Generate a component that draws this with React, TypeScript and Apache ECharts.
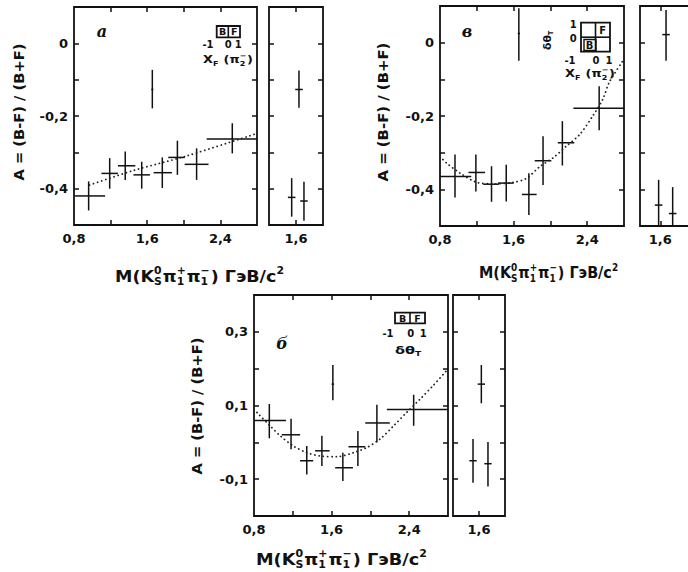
import React, { useEffect, useRef } from "react";
import * as echarts from "echarts";

// ---------- DATA ----------
// Panel а (X_F): main plot
const aX = [0.96, 1.19, 1.36, 1.54, 1.765, 1.93, 2.14, 2.53, 1.656];
const aXlo = [0.81, 1.1, 1.28, 1.45, 1.67, 1.83, 2.01, 2.25, 1.645];
const aXhi = [1.14, 1.28, 1.47, 1.63, 1.87, 2.01, 2.27, 2.8, 1.667];
const aY = [-0.42, -0.358, -0.337, -0.362, -0.356, -0.314, -0.333, -0.263, -0.127];
const aYlo = [-0.46, -0.4, -0.376, -0.4, -0.398, -0.362, -0.376, -0.303, -0.179];
const aYhi = [-0.38, -0.316, -0.298, -0.326, -0.314, -0.268, -0.289, -0.22, -0.073];
const aFitX = [0.97, 1.45, 2.03, 2.8];
const aFitY = [-0.39, -0.35, -0.31, -0.248];
// Panel а: side plot
const aSX = [1.568, 1.622, 1.659];
const aSY = [-0.424, -0.127, -0.434];
const aSYlo = [-0.477, -0.177, -0.488];
const aSYhi = [-0.371, -0.075, -0.381];

// Panel в (X_F, δθ_T): main plot
const bX = [0.963, 1.19, 1.36, 1.52, 1.766, 1.92, 2.13, 2.53, 1.657];
const bXlo = [0.8, 1.11, 1.27, 1.43, 1.69, 1.83, 2.08, 2.25, 1.645];
const bXhi = [1.14, 1.29, 1.44, 1.6, 1.85, 2.01, 2.26, 2.8, 1.67];
const bY = [-0.365, -0.354, -0.386, -0.383, -0.414, -0.322, -0.273, -0.179, 0.025];
const bYlo = [-0.422, -0.406, -0.434, -0.433, -0.47, -0.388, -0.335, -0.239, -0.049];
const bYhi = [-0.305, -0.305, -0.337, -0.333, -0.356, -0.255, -0.214, -0.119, 0.094];
const bFitX = [0.8, 0.87, 1.02, 1.2, 1.38, 1.6, 1.74, 1.885, 2.03, 2.17, 2.32, 2.46, 2.57, 2.64, 2.79];
const bFitY = [-0.31, -0.328, -0.356, -0.381, -0.385, -0.381, -0.37, -0.338, -0.314, -0.283, -0.25, -0.2, -0.154, -0.108, -0.049];
// Panel в: side plot
const bSX = [1.588, 1.643, 1.692];
const bSY = [-0.443, 0.022, -0.466];
const bSYlo = [-0.5, -0.049, -0.5];
const bSYhi = [-0.374, 0.089, -0.394];

// Panel б (δθ_T): main plot
const cX = [0.958, 1.182, 1.344, 1.5, 1.716, 1.871, 2.067, 2.446, 1.613];
const cXlo = [0.8, 1.086, 1.275, 1.43, 1.637, 1.774, 1.947, 2.17, 1.6];
const cXhi = [1.13, 1.275, 1.41, 1.58, 1.82, 1.947, 2.2, 2.8, 1.626];
const cY = [0.059, 0.0205, -0.05, -0.023, -0.069, -0.012, 0.0526, 0.089, 0.158];
const cYlo = [0.011, -0.019, -0.087, -0.064, -0.105, -0.064, 0.0, 0.045, 0.114];
const cYhi = [0.104, 0.064, -0.01, 0.018, -0.028, 0.031, 0.102, 0.129, 0.21];
const cFitX = [0.8, 0.845, 0.965, 1.069, 1.206, 1.344, 1.482, 1.654, 1.826, 1.964, 2.1, 2.24, 2.377, 2.515, 2.65, 2.79];
const cFitY = [0.09, 0.077, 0.045, 0.018, -0.01, -0.028, -0.037, -0.039, -0.028, -0.014, 0.009, 0.045, 0.082, 0.118, 0.155, 0.196];
// Panel б: side plot
const cSX = [1.554, 1.618, 1.669];
const cSY = [-0.05, 0.158, -0.058];
const cSYlo = [-0.11, 0.106, -0.12];
const cSYhi = [0.009, 0.21, 0.001];

// Ticks / labels
const mainXTicks = [1.2, 1.6, 2.0, 2.4];
const mainXLabels = [0.8, 1.6, 2.4];
const sideXTicks = [1.6];
const sideXLabels = [1.6];
const abYTicks = [-0.4, -0.3, -0.2, -0.1, 0];
const abYLabels = [-0.4, -0.2, 0];
const cYTicks = [-0.1, 0, 0.1, 0.2, 0.3];
const cYLabels = [-0.1, 0.1, 0.3];

// ---------- HELPERS ----------
const FONT = "DejaVu Sans";
const INK = "#111";
const fmt = (v: number) => (Math.abs(v) < 1e-9 ? "0" : v.toFixed(1).replace(".", ","));

let ctx: CanvasRenderingContext2D | null = null;
function tw(t: string, size: number) {
  if (!ctx) ctx = document.createElement("canvas").getContext("2d");
  if (!ctx) return t.length * size * 0.6;
  ctx.font = `bold ${size}px "${FONT}"`;
  return ctx.measureText(t).width;
}

type Piece = { n?: string; sup?: string; sub?: string };
function compose(
  pieces: Piece[],
  size: number,
  o: { x: number; y: number; width?: number; rotation?: number; align?: "left" | "center" }
) {
  const small = size * 0.62;
  const items: { x: number; y: number; t: string; s: number }[] = [];
  let cx = 0;
  for (const p of pieces) {
    if (p.n !== undefined) {
      items.push({ x: cx, y: 0, t: p.n, s: size });
      cx += tw(p.n, size);
    } else {
      let w = 0;
      if (p.sup) {
        items.push({ x: cx, y: -size * 0.36, t: p.sup, s: small });
        w = Math.max(w, tw(p.sup, small));
      }
      if (p.sub) {
        items.push({ x: cx, y: size * 0.34, t: p.sub, s: small });
        w = Math.max(w, tw(p.sub, small));
      }
      cx += w + size * 0.06;
    }
  }
  const W = cx;
  const sx = o.width ? o.width / W : 1;
  const off = o.align === "left" ? 0 : -W / 2;
  return {
    type: "group",
    x: o.x,
    y: o.y,
    rotation: o.rotation || 0,
    scaleX: sx,
    silent: true,
    children: items.map((it) => ({
      type: "text",
      x: it.x + off,
      y: it.y,
      style: {
        text: it.t,
        fontSize: it.s,
        fontWeight: "bold",
        fontFamily: FONT,
        fill: INK,
        align: "left",
        verticalAlign: "middle",
      },
    })),
  };
}

function txt(t: string, x: number, y: number, size = 10, extra: any = {}) {
  return {
    type: "text",
    x,
    y,
    silent: true,
    style: {
      text: t,
      fontSize: size,
      fontWeight: "bold",
      fontFamily: FONT,
      fill: INK,
      align: "center",
      verticalAlign: "middle",
      ...extra,
    },
  };
}
function ln(x1: number, y1: number, x2: number, y2: number, w = 1.6) {
  return { type: "line", silent: true, shape: { x1, y1, x2, y2 }, style: { stroke: INK, lineWidth: w } };
}
function box(x: number, y: number, width: number, height: number, w = 1.8) {
  return { type: "rect", silent: true, shape: { x, y, width, height }, style: { fill: "none", stroke: INK, lineWidth: w } };
}

const tickStyle = (vals: number[]) => ({
  show: true,
  inside: true,
  length: 5,
  customValues: vals,
  lineStyle: { color: INK, width: 1.5 },
});
const labelStyle = (vals: number[]) => ({
  show: true,
  customValues: vals,
  formatter: fmt,
  margin: 7,
  color: INK,
  fontSize: 13,
  fontWeight: "bold",
  fontFamily: FONT,
});

const noLine = { show: false, onZero: false };

function xAxes(gridIndex: number, min: number, max: number, ticks: number[], labels: number[]) {
  const base = { type: "value", gridIndex, min, max, splitLine: { show: false }, axisLine: noLine };
  return [
    { ...base, position: "bottom", axisTick: tickStyle(ticks), axisLabel: labelStyle(labels) },
    { ...base, position: "top", axisTick: tickStyle(ticks), axisLabel: { show: false } },
  ];
}
function yAxes(gridIndex: number, min: number, max: number, ticks: number[], labels: number[] | null) {
  const base = { type: "value", gridIndex, min, max, splitLine: { show: false }, axisLine: noLine };
  return [
    {
      ...base,
      position: "left",
      axisTick: tickStyle(ticks),
      axisLabel: labels ? { ...labelStyle(labels), margin: 6 } : { show: false },
    },
    { ...base, position: "right", axisTick: tickStyle(ticks), axisLabel: { show: false } },
  ];
}

function errSeries(g: number, x: number[], xlo: number[], xhi: number[], y: number[], ylo: number[], yhi: number[]) {
  return {
    type: "custom",
    xAxisIndex: 2 * g,
    yAxisIndex: 2 * g,
    clip: true,
    silent: true,
    encode: { x: [0, 2, 3], y: [1, 4, 5] },
    data: x.map((v, i) => [v, y[i], xlo[i], xhi[i], ylo[i], yhi[i]]),
    renderItem: (_p: any, api: any) => {
      const xv = api.value(0);
      const yv = api.value(1);
      const h1 = api.coord([api.value(2), yv]);
      const h2 = api.coord([api.value(3), yv]);
      const v1 = api.coord([xv, api.value(4)]);
      const v2 = api.coord([xv, api.value(5)]);
      const st = { stroke: INK, lineWidth: 1.5 };
      return {
        type: "group",
        children: [
          { type: "line", shape: { x1: h1[0], y1: h1[1], x2: h2[0], y2: h2[1] }, style: st },
          { type: "line", shape: { x1: v1[0], y1: v1[1], x2: v2[0], y2: v2[1] }, style: st },
        ],
      };
    },
  };
}
function sideSeries(g: number, x: number[], y: number[], ylo: number[], yhi: number[]) {
  const hw = 0.028;
  return errSeries(
    g,
    x,
    x.map((v) => v - hw),
    x.map((v) => v + hw),
    y,
    ylo,
    yhi
  );
}
function fitSeries(g: number, fx: number[], fy: number[]) {
  return {
    type: "line",
    xAxisIndex: 2 * g,
    yAxisIndex: 2 * g,
    data: fx.map((v, i) => [v, fy[i]]),
    showSymbol: false,
    symbol: "none",
    smooth: 0.3,
    clip: true,
    silent: true,
    lineStyle: { color: "#222", width: 1.8, type: [0.1, 4.2], cap: "round" },
  };
}

const xTitle: Piece[] = [
  { n: "M(K" },
  { sup: "0", sub: "S" },
  { n: "π" },
  { sup: "+", sub: "1" },
  { n: "π" },
  { sup: "−", sub: "1" },
  { n: ") ГэВ/c" },
  { sup: "2" },
];
const xfTitle: Piece[] = [{ n: "X" }, { sub: "F" }, { n: " (π" }, { sup: "−", sub: "2" }, { n: ")" }];
const dtTitle: Piece[] = [{ n: "δθ" }, { sub: "T" }];
const yTitle: Piece[] = [{ n: "A = (B-F) / (B+F)" }];

export default function App() {
  const ref = useRef<HTMLDivElement>(null);
  useEffect(() => {
    if (!ref.current) return;
    const chart = echarts.init(ref.current, undefined, { renderer: "svg" });
    const grids = [
      { left: 74, top: 7, width: 183, height: 218 },
      { left: 269, top: 7, width: 54, height: 218 },
      { left: 440, top: 6, width: 184, height: 220 },
      { left: 640, top: 6, width: 54, height: 220 },
      { left: 254, top: 295, width: 194, height: 221 },
      { left: 453, top: 295, width: 52, height: 221 },
    ].map((g) => ({
      ...g,
      show: true,
      borderColor: INK,
      borderWidth: 1.8,
      backgroundColor: "transparent",
      containLabel: false,
      outerBoundsMode: "none",
    }));

    const option: any = {
      animation: false,
      backgroundColor: "#fff",
      textStyle: { fontFamily: FONT },
      grid: grids,
      xAxis: [
        ...xAxes(0, 0.8, 2.8, mainXTicks, mainXLabels),
        ...xAxes(1, 1.4, 1.8, sideXTicks, sideXLabels),
        ...xAxes(2, 0.8, 2.8, mainXTicks, mainXLabels),
        ...xAxes(3, 1.45, 1.85, sideXTicks, sideXLabels),
        ...xAxes(4, 0.8, 2.8, mainXTicks, mainXLabels),
        ...xAxes(5, 1.4, 1.8, sideXTicks, sideXLabels),
      ],
      yAxis: [
        ...yAxes(0, -0.5, 0.1, abYTicks, abYLabels),
        ...yAxes(1, -0.5, 0.1, abYTicks, null),
        ...yAxes(2, -0.5, 0.1, abYTicks, abYLabels),
        ...yAxes(3, -0.5, 0.1, abYTicks, null),
        ...yAxes(4, -0.2, 0.4, cYTicks, cYLabels),
        ...yAxes(5, -0.2, 0.4, cYTicks, null),
      ],
      series: [
        fitSeries(0, aFitX, aFitY),
        errSeries(0, aX, aXlo, aXhi, aY, aYlo, aYhi),
        sideSeries(1, aSX, aSY, aSYlo, aSYhi),
        fitSeries(2, bFitX, bFitY),
        errSeries(2, bX, bXlo, bXhi, bY, bYlo, bYhi),
        sideSeries(3, bSX, bSY, bSYlo, bSYhi),
        fitSeries(4, cFitX, cFitY),
        errSeries(4, cX, cXlo, cXhi, cY, cYlo, cYhi),
        sideSeries(5, cSX, cSY, cSYlo, cSYhi),
      ],
      graphic: [
        // axis titles
        compose(yTitle, 14, { x: 19, y: 112, width: 137, rotation: Math.PI / 2 }),
        compose(yTitle, 14, { x: 383, y: 112, width: 139, rotation: Math.PI / 2 }),
        compose(yTitle, 14, { x: 197, y: 406, width: 137, rotation: Math.PI / 2 }),
        compose(xTitle, 16, { x: 200, y: 276, width: 170 }),
        compose(xTitle, 16, { x: 549, y: 273, width: 140 }),
        compose(xTitle, 16, { x: 342, y: 559, width: 172 }),
        // panel letters
        txt("а", 102, 31, 16, { fontStyle: "italic", fontFamily: "DejaVu Serif" }),
        txt("в", 467, 31, 16, { fontStyle: "italic", fontFamily: "DejaVu Serif" }),
        txt("б", 282, 343, 16, { fontStyle: "italic", fontFamily: "DejaVu Serif" }),
        // legend а
        box(216.7, 26, 23.3, 11.3),
        ln(228.3, 26, 228.3, 37.3),
        txt("B", 222.5, 31.8, 9.5),
        txt("F", 234.2, 31.8, 9.5),
        txt("-1", 208, 44.5, 10),
        txt("0", 228.3, 44.5, 10),
        txt("1", 238.3, 44.5, 10),
        compose(xfTitle, 11, { x: 203, y: 59.5, width: 50, align: "left" }),
        // legend в
        box(581, 22.7, 29, 29),
        ln(595.5, 22.7, 595.5, 51.7),
        ln(581, 37.2, 610, 37.2),
        box(584, 39.5, 12, 11, 1.4),
        txt("F", 602.7, 30.5, 10),
        txt("B", 589.5, 45, 10),
        txt("1", 573.3, 24, 10),
        txt("0", 573.3, 38, 10),
        txt("-1", 570, 60, 10),
        txt("0", 596, 60, 10),
        txt("1", 609, 60, 10),
        compose(dtTitle, 11, { x: 547, y: 40, width: 20, rotation: Math.PI / 2 }),
        compose(xfTitle, 11, { x: 565, y: 73.5, width: 50, align: "left" }),
        // legend б
        box(395, 312.7, 30, 10.6),
        ln(410, 312.7, 410, 323.3),
        txt("B", 402.5, 318.2, 9.5),
        txt("F", 417.5, 318.2, 9.5),
        txt("-1", 388, 333.5, 10),
        txt("0", 410.7, 333.5, 10),
        txt("1", 423.3, 333.5, 10),
        compose(dtTitle, 11, { x: 395, y: 350, width: 27, align: "left" }),
      ],
    };
    chart.setOption(option);
    return () => chart.dispose();
  }, []);
  return (
    <div
      ref={ref}
      style={{ position: "absolute", left: 0, top: 0, width: 688, height: 572, background: "#fff" }}
    />
  );
}
